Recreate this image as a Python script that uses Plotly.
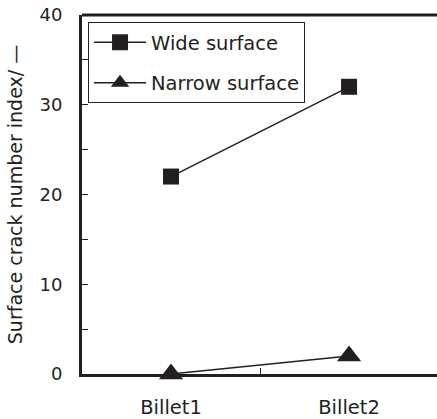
import plotly.graph_objects as go

categories = ["Billet1", "Billet2"]
wide_surface = [22, 32]
narrow_surface = [0, 2]
y_ticks = [0, 10, 20, 30, 40]

FONT = "DejaVu Sans, sans-serif"
INK = "#231f20"

fig = go.Figure()
fig.add_trace(go.Scatter(
    x=categories, y=wide_surface, name="Wide surface", mode="lines+markers",
    line=dict(color=INK, width=1.5),
    marker=dict(symbol="square", size=16, color=INK),
    legendgroup="a",
))
fig.add_trace(go.Scatter(
    x=categories, y=narrow_surface, name="Narrow surface", mode="lines+markers",
    line=dict(color=INK, width=1.5),
    marker=dict(symbol="triangle-up", size=21, color=INK),
    legendgroup="b",
    cliponaxis=False,
))

fig.update_layout(
    width=437, height=419,
    margin=dict(l=82, r=0, t=15, b=45),
    plot_bgcolor="white", paper_bgcolor="white",
    font=dict(family=FONT, color=INK, size=19),
    showlegend=True,
    legend=dict(
        x=0.017, y=0.98, xanchor="left", yanchor="top",
        bordercolor=INK, borderwidth=1, bgcolor="white",
        font=dict(size=19.5, family=FONT, color=INK),
        tracegroupgap=12, traceorder="grouped",
        itemwidth=52,
    ),
)
fig.update_xaxes(
    type="category", range=[-0.5, 1.494],
    showline=True, linecolor=INK, linewidth=3,
    ticks="inside", tickson="boundaries", ticklen=6, tickcolor=INK, tickwidth=1,
    showgrid=False, zeroline=False, layer="below traces",
    tickfont=dict(size=19.5, family=FONT, color=INK),
    ticklabelstandoff=14,
)
fig.update_yaxes(
    range=[0, 40], tickvals=y_ticks,
    showline=True, linecolor=INK, linewidth=3,
    ticks="inside", ticklen=6, tickcolor=INK, tickwidth=1,
    minor=dict(dtick=5, ticks="inside", ticklen=6, tickcolor=INK, tickwidth=1),
    showgrid=False, zeroline=False, layer="below traces",
    tickfont=dict(size=18, family=FONT, color=INK),
    ticklabelstandoff=13,
    title=dict(text="Surface crack number index/ \u2014", font=dict(size=19, family=FONT, color=INK), standoff=12),
)
fig.add_shape(type="line", xref="paper", yref="paper", x0=0, x1=1, y0=1, y1=1,
              line=dict(color=INK, width=3))

fig.write_html("out.html")
